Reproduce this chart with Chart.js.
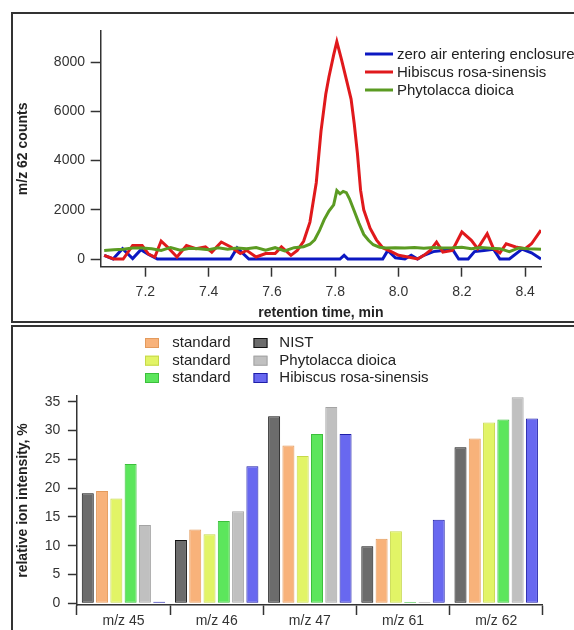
<!DOCTYPE html>
<html>
<head>
<meta charset="utf-8">
<script src="https://cdn.jsdelivr.net/npm/chart.js@4/dist/chart.umd.min.js"></script>
<style>
  html, body { margin: 0; padding: 0; background: #fff; width: 574px; height: 630px; overflow: hidden; }
  .panel { position: absolute; box-sizing: border-box; border: 2px solid #333; background: #fff; }
  canvas { position: absolute; left: 0; }
</style>
</head>
<body>
<div class="panel" style="left:11px; top:12px; width:620px; height:311px;"></div>
<div class="panel" style="left:11px; top:325px; width:620px; height:320px;"></div>
<canvas id="top" width="574" height="322" style="top:0px;"></canvas>
<canvas id="bottom" width="574" height="304" style="top:326px;"></canvas>
<script>
// ---------- Top chart data (retention time, min / m/z 62 counts) ----------
const blueLabel = 'zero air entering enclosure';
const blueT = [7.07,7.098,7.128,7.16,7.186,7.209,7.238,7.469,7.49,7.527,7.815,7.828,7.84,7.95,7.966,7.99,8.02,8.04,8.06,8.08,8.11,8.14,8.17,8.19,8.22,8.24,8.27,8.30,8.32,8.35,8.39,8.42,8.45];
const blueY = [150,0,420,20,380,200,0,0,450,0,0,150,0,0,350,50,0,150,0,150,300,350,400,0,0,300,350,400,0,0,400,250,0];

const redLabel = 'Hibiscus rosa-sinensis';
const redT = [7.07,7.10,7.13,7.16,7.19,7.21,7.23,7.25,7.27,7.30,7.33,7.36,7.39,7.41,7.44,7.47,7.50,7.52,7.55,7.58,7.61,7.63,7.66,7.68,7.70,7.72,7.74,7.755,7.77,7.78,7.795,7.805,7.82,7.835,7.85,7.86,7.87,7.88,7.89,7.91,7.93,7.95,7.98,8.00,8.03,8.06,8.08,8.10,8.12,8.14,8.17,8.20,8.23,8.25,8.28,8.30,8.32,8.34,8.37,8.40,8.42,8.45];
const redY = [150,0,0,550,550,200,80,730,490,80,550,420,490,280,690,490,220,350,80,220,220,490,150,350,720,1500,3100,5200,6700,7400,8300,8840,8100,7300,6500,5500,4300,2800,2000,1250,780,460,280,150,80,0,150,350,690,280,350,1100,760,420,1030,420,250,620,490,420,620,1170];

const greenLabel = 'Phytolacca dioica';
const greenT = [7.07,7.10,7.13,7.16,7.19,7.22,7.25,7.28,7.31,7.34,7.37,7.40,7.43,7.46,7.49,7.52,7.55,7.58,7.61,7.64,7.67,7.70,7.72,7.735,7.75,7.765,7.78,7.795,7.805,7.815,7.825,7.835,7.845,7.86,7.875,7.89,7.905,7.92,7.94,7.96,7.99,8.02,8.05,8.08,8.11,8.14,8.17,8.20,8.23,8.26,8.29,8.32,8.35,8.38,8.41,8.45];
const greenY = [350,380,400,450,450,420,350,470,360,440,420,380,460,400,450,420,470,360,460,330,460,500,600,780,1150,1600,1950,2200,2780,2650,2750,2700,2450,1950,1450,1000,760,580,480,450,460,450,470,440,470,450,460,480,420,470,440,420,300,450,420,400];

const topXTicks = [7.2, 7.4, 7.6, 7.8, 8.0, 8.2, 8.4];
const topXTickLabels = ['7.2','7.4','7.6','7.8','8.0','8.2','8.4'];
const topYTicks = [0, 2000, 4000, 6000, 8000];
const topYTickLabels = ['0','2000','4000','6000','8000'];

// ---------- Bottom chart data (relative ion intensity, %) ----------
const categories = ['m/z 45','m/z 46','m/z 47','m/z 61','m/z 62'];
const nist     = [19.1, 11.0, 32.5,  9.9, 27.1];
const standard1 = [19.5, 12.8, 27.4, 11.2, 28.6];
const standard2 = [18.2, 12.0, 25.6, 12.5, 31.4];
const standard3 = [24.2, 14.3, 29.4,  0.2, 31.9];
const phytolacca = [13.6, 16.0, 34.1,  0.2, 35.8];
const hibiscus  = [0.25, 23.8, 29.4, 14.5, 32.1];
const barLabels = ['NIST','standard','standard','standard','Phytolacca dioica','Hibiscus rosa-sinensis'];
const bottomYTicks = [0,5,10,15,20,25,30,35];
const bottomYTickLabels = ['0','5','10','15','20','25','30','35'];

// ---------- helpers ----------
const FONT = "'Liberation Sans', Arial, Helvetica, sans-serif";
Chart.defaults.font.family = FONT;
Chart.defaults.color = '#333';
const pts = (t, v) => t.map((x, i) => ({ x: x, y: v[i] }));
const setTicks = vals => (scale => { scale.ticks = vals.map(v => ({ value: v })); });

const customLegend = {
  id: 'customLegend',
  afterDraw(chart, args, opts) {
    if (!opts || !opts.items || !opts.items.length) return;
    const ctx = chart.ctx;
    ctx.save();
    ctx.font = opts.font;
    ctx.fillStyle = opts.color;
    ctx.textBaseline = 'alphabetic';
    ctx.textAlign = 'left';
    opts.items.forEach(it => {
      const ds = chart.data.datasets[it.dataset];
      if (opts.kind === 'line') {
        ctx.strokeStyle = ds.borderColor;
        ctx.lineWidth = 3;
        ctx.beginPath();
        ctx.moveTo(it.x0, it.y);
        ctx.lineTo(it.x1, it.y);
        ctx.stroke();
        ctx.fillStyle = opts.color;
        ctx.fillText(ds.label, it.tx, it.y + 5);
      } else {
        ctx.fillStyle = ds.backgroundColor;
        ctx.fillRect(it.x0, it.base - 9, 14, 10);
        ctx.strokeStyle = ds.borderColor;
        ctx.lineWidth = 1;
        ctx.strokeRect(it.x0 + 0.5, it.base - 8.5, 13, 9);
        ctx.fillStyle = opts.color;
        ctx.fillText(ds.label, it.tx, it.base);
      }
    });
    ctx.restore();
  }
};
Chart.register(customLegend);

const axisColor = '#333';

// ---------- Top chart ----------
new Chart(document.getElementById('top'), {
  type: 'line',
  data: {
    datasets: [
      { label: blueLabel, data: pts(blueT, blueY), borderColor: '#0c18c2', borderWidth: 3, pointRadius: 0, tension: 0, order: 2 },
      { label: redLabel, data: pts(redT, redY), borderColor: '#e0191c', borderWidth: 3, pointRadius: 0, tension: 0, order: 1 },
      { label: greenLabel, data: pts(greenT, greenY), borderColor: '#5b9b22', borderWidth: 3, pointRadius: 0, tension: 0, order: 0 }
    ]
  },
  options: {
    responsive: false,
    animation: false,
    events: [],
    layout: { padding: { left: 0, top: 31, right: 33, bottom: 0 } },
    plugins: {
      legend: { display: false },
      tooltip: { enabled: false },
      customLegend: {
        kind: 'line',
        font: "15px " + FONT,
        color: '#222',
        items: [
          { dataset: 0, x0: 365, x1: 393, y: 54, tx: 397 },
          { dataset: 1, x0: 365, x1: 393, y: 72, tx: 397 },
          { dataset: 2, x0: 365, x1: 393, y: 90, tx: 397 }
        ]
      }
    },
    scales: {
      x: {
        type: 'linear',
        min: 7.059, max: 8.45,
        afterBuildTicks: setTicks(topXTicks),
        afterFit: s => { s.height = 55.3; },
        grid: { drawOnChartArea: false, drawTicks: true, tickLength: 10, tickColor: axisColor, tickWidth: 1.5 },
        border: { display: true, color: axisColor, width: 1.5 },
        ticks: { font: { size: 14 }, color: '#333', padding: 7, maxRotation: 0, autoSkip: false,
                 callback: (v, i) => topXTickLabels[i] },
        title: { display: true, text: 'retention time, min', font: { size: 14, weight: 'bold' }, color: '#222', padding: { top: 0, bottom: 0 } }
      },
      y: {
        type: 'linear',
        min: -313, max: 9270,
        afterBuildTicks: setTicks(topYTicks),
        afterFit: s => { s.width = 100.7; },
        grid: { drawOnChartArea: false, drawTicks: true, tickLength: 10, tickColor: axisColor, tickWidth: 1.5 },
        border: { display: true, color: axisColor, width: 1.5 },
        ticks: { font: { size: 14 }, color: '#333', padding: 5.7, autoSkip: false,
                 callback: (v, i) => topYTickLabels[i] },
        title: { display: true, text: 'm/z 62 counts', font: { size: 14, weight: 'bold' }, color: '#222', padding: { top: 14.3, bottom: 0 } }
      }
    }
  }
});

// ---------- Bottom chart ----------
const barColors = [
  { fill: '#6c6c6c', border: '#111111' },
  { fill: '#f8b27a', border: '#e39a5c' },
  { fill: '#e2f466', border: '#c6d84a' },
  { fill: '#5ce65c', border: '#3cbf3c' },
  { fill: '#c0c0c0', border: '#a4a4a4' },
  { fill: '#6868f0', border: '#1e1ea8' }
];
const barSeries = [nist, standard1, standard2, standard3, phytolacca, hibiscus];

new Chart(document.getElementById('bottom'), {
  type: 'bar',
  data: {
    labels: categories,
    datasets: barSeries.map((vals, i) => ({
      label: barLabels[i],
      data: vals,
      backgroundColor: barColors[i].fill,
      borderColor: barColors[i].border,
      borderWidth: 1,
      borderSkipped: false,
      categoryPercentage: 0.92,
      barPercentage: 0.84
    }))
  },
  options: {
    responsive: false,
    animation: false,
    events: [],
    layout: { padding: { left: 0, top: 70, right: 31.2, bottom: 0 } },
    plugins: {
      legend: { display: false },
      tooltip: { enabled: false },
      customLegend: {
        kind: 'box',
        font: "15px " + FONT,
        color: '#222',
        items: [
          { dataset: 1, x0: 145, tx: 172.3, base: 21 },
          { dataset: 2, x0: 145, tx: 172.3, base: 38.7 },
          { dataset: 3, x0: 145, tx: 172.3, base: 56 },
          { dataset: 0, x0: 253.5, tx: 279.3, base: 21 },
          { dataset: 4, x0: 253.5, tx: 279.3, base: 38.7 },
          { dataset: 5, x0: 253.5, tx: 279.3, base: 56 }
        ]
      }
    },
    scales: {
      x: {
        type: 'category',
        afterFit: s => { s.height = 25; },
        grid: { offset: true, drawOnChartArea: false, drawTicks: true, tickLength: 10, tickColor: axisColor, tickWidth: 1.5 },
        border: { display: true, color: axisColor, width: 1.5 },
        ticks: { font: { size: 14 }, color: '#333', padding: -2, maxRotation: 0, autoSkip: false }
      },
      y: {
        type: 'linear',
        min: -0.3, max: 36,
        afterBuildTicks: setTicks(bottomYTicks),
        afterFit: s => { s.width = 76.9; },
        grid: { drawOnChartArea: false, drawTicks: true, tickLength: 9, tickColor: axisColor, tickWidth: 1.5 },
        border: { display: true, color: axisColor, width: 1.5 },
        ticks: { font: { size: 14 }, color: '#333', padding: 7.5, autoSkip: false,
                 callback: (v, i) => bottomYTickLabels[i] },
        title: { display: true, text: 'relative ion intensity, %', font: { size: 14, weight: 'bold' }, color: '#222', padding: { top: 14.3, bottom: 0 } }
      }
    }
  }
});
</script>
</body>
</html>
